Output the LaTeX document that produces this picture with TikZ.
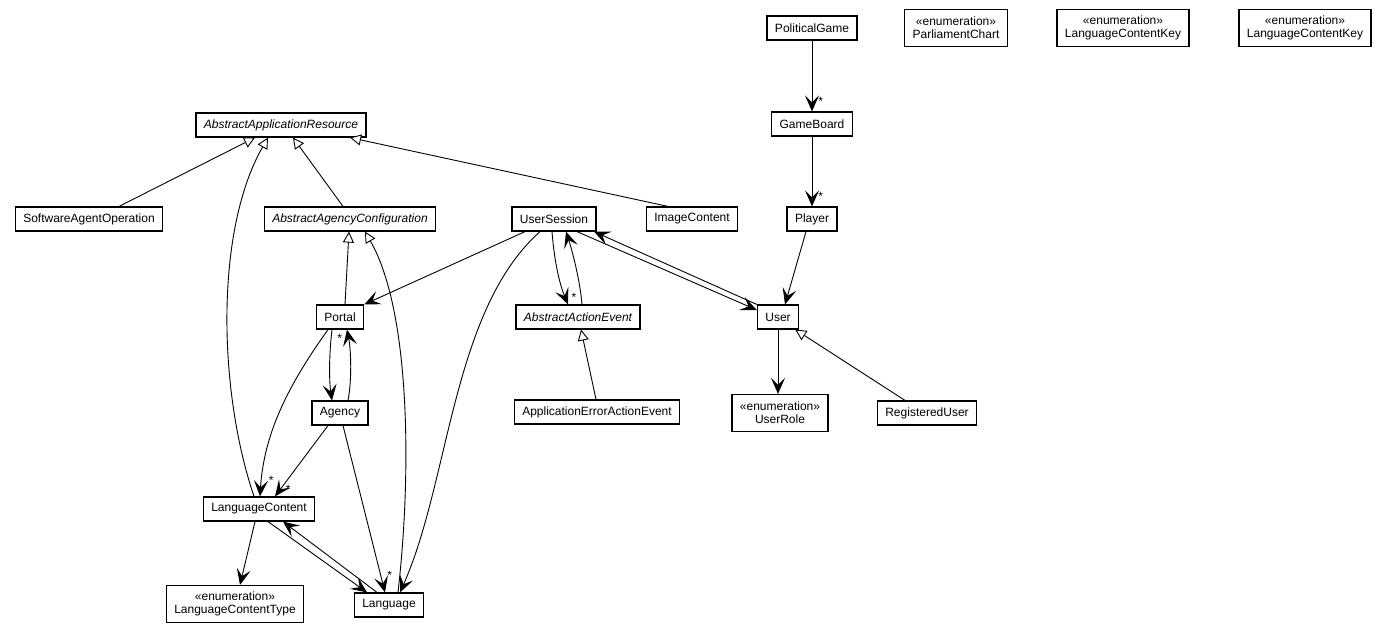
\documentclass[tikz,border=0pt]{standalone}
\usepackage{fontspec}
\setmainfont{Liberation Sans}
\usetikzlibrary{arrows.meta}
\begin{document}
\begin{tikzpicture}[x=1pt,y=-1pt,
    cls/.style={draw, line width=1.2pt, fill=white, inner xsep=8pt, inner ysep=0pt,
      minimum height=24pt, font=\fontsize{12}{13}\selectfont},
    abst/.style={cls, font=\fontsize{12}{13}\selectfont\itshape},
    enum/.style={cls, minimum height=37pt, align=center},
    assoc/.style={line width=0.9pt, -{Stealth[length=16pt,width=14pt,inset=7pt]}},
    extends/.style={line width=0.9pt, -{Triangle[open,length=11pt,width=11pt,fill=white]}},
    mult/.style={font=\fontsize{12}{12}\selectfont, inner sep=0pt}]
      \useasboundingbox (0,0) rectangle (1389,635);
      \node[cls] (PoliticalGame) at (812,28) {PoliticalGame};
      \node[enum] (ParliamentChart) at (956,28) {«enumeration»\\ParliamentChart};
      \node[enum] (LanguageContentKeyA) at (1123,28) {«enumeration»\\LanguageContentKey};
      \node[enum] (LanguageContentKeyB) at (1305,28) {«enumeration»\\LanguageContentKey};
      \node[cls] (GameBoard) at (812,124) {GameBoard};
      \node[abst] (AbstractApplicationResource) at (281,125) {AbstractApplicationResource};
      \node[cls] (SoftwareAgentOperation) at (89,219) {SoftwareAgentOperation};
      \node[abst] (AbstractAgencyConfiguration) at (350,219) {AbstractAgencyConfiguration};
      \node[cls] (UserSession) at (554,219) {UserSession};
      \node[cls] (ImageContent) at (692,219) {ImageContent};
      \node[cls] (Player) at (812,219) {Player};
      \node[cls] (Portal) at (340,317) {Portal};
      \node[abst] (AbstractActionEvent) at (578,317) {AbstractActionEvent};
      \node[cls] (User) at (778,317) {User};
      \node[cls] (Agency) at (340,413) {Agency};
      \node[cls] (ApplicationErrorActionEvent) at (597,412) {ApplicationErrorActionEvent};
      \node[enum] (UserRole) at (780,413) {«enumeration»\\UserRole};
      \node[cls] (RegisteredUser) at (927,413) {RegisteredUser};
      \node[cls] (LanguageContent) at (259,509) {LanguageContent};
      \node[enum] (LanguageContentType) at (235,604) {«enumeration»\\LanguageContentType};
      \node[cls] (Language) at (389,605) {Language};
      % generalisations
      \begin{scope}[extends]
        \draw ([xshift=30pt]SoftwareAgentOperation.north) -- ([xshift=-26pt]AbstractApplicationResource.south);
        \draw ([xshift=-5pt]LanguageContent.north) .. controls (218,390) and (215,230) .. ([xshift=-13pt]AbstractApplicationResource.south);
        \draw ([xshift=-7pt]AbstractAgencyConfiguration.north) -- ([xshift=12pt]AbstractApplicationResource.south);
        \draw ([xshift=-24pt]ImageContent.north) -- ([xshift=69pt]AbstractApplicationResource.south);
        \draw ([xshift=5pt]Portal.north) -- ([xshift=-1pt]AbstractAgencyConfiguration.south);
        \draw ([xshift=9pt]Language.north) .. controls (412,470) and (410,310) .. ([xshift=15pt]AbstractAgencyConfiguration.south);
        \draw ([xshift=-1pt]ApplicationErrorActionEvent.north) -- ([xshift=3pt]AbstractActionEvent.south);
        \draw ([xshift=-22pt]RegisteredUser.north) -- ([xshift=-4pt]User.south east);
      \end{scope}
      % associations
      \begin{scope}[assoc]
        \draw (PoliticalGame) -- (GameBoard) node[mult, pos=0.86, right=6pt]{*};
        \draw (GameBoard) -- (Player) node[mult, pos=0.86, right=6pt]{*};
        \draw ([xshift=-6pt]Player.south) -- ([xshift=7pt]User.north);
        \draw ([xshift=-29pt]UserSession.south) -- (Portal.north east);
        \draw ([xshift=-14pt]UserSession.south) .. controls (452,310) and (450,480) .. ([xshift=11pt]Language.north);
        \draw ([xshift=-2pt]UserSession.south) .. controls (555,270) and (562,290) .. ([xshift=-10pt]AbstractActionEvent.north)
          node[mult, pos=0.85, right=6pt]{*};
        \draw ([xshift=4pt]AbstractActionEvent.north) .. controls (580,280) and (572,250) .. ([xshift=12pt]UserSession.south);
        \draw ([xshift=23pt]UserSession.south) -- ([yshift=7pt]User.west);
        \draw (User.north west) -- ([xshift=40pt]UserSession.south);
        \draw (User.south) -- (User.south |- UserRole.north);
        \draw ([xshift=-8pt]Portal.south) .. controls (329,355) and (329,380) .. ([xshift=-8pt]Agency.north);
        \draw ([xshift=8pt]Agency.north) .. controls (352,380) and (351,350) .. ([xshift=7pt]Portal.south)
          node[mult, pos=0.86, left=6pt]{*};
        \draw ([xshift=-12pt]Portal.south) .. controls (292,380) and (264,430) .. ([xshift=1pt]LanguageContent.north)
          node[mult, pos=0.92, right=7pt]{*};
        \draw ([xshift=-12pt]Agency.south) -- ([xshift=16pt]LanguageContent.north)
          node[mult, pos=0.9, right=5pt]{*};
        \draw ([xshift=3pt]Agency.south) -- ([xshift=-4pt]Language.north)
          node[mult, pos=0.9, right=6pt]{*};
        \draw ([xshift=-4pt]LanguageContent.south) -- ([xshift=5pt]LanguageContentType.north);
        \draw ([xshift=9pt]LanguageContent.south) -- ([xshift=-22pt]Language.north);
        \draw ([xshift=-12pt]Language.north) -- ([xshift=24pt]LanguageContent.south);
      \end{scope}
    \end{tikzpicture}
\end{document}
